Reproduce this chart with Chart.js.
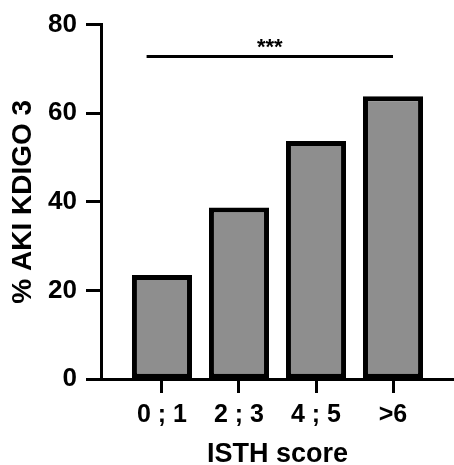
<!DOCTYPE html>
<html>
<head>
<meta charset="utf-8">
<script src="https://cdn.jsdelivr.net/npm/chart.js@4"></script>
<style>
  body { margin: 0; background: #fff; }
  #caja { width: 454px; height: 465px; }
</style>
</head>
<body>
<div id="caja"><canvas id="graficoAki"></canvas></div>
<script>
const categorias = ['0 ; 1', '2 ; 3', '4 ; 5', '>6'];
const porcentajes = [23.5, 38.7, 53.7, 63.8];
const ticksY = [0, 20, 40, 60, 80];
// barra de significancia: desde / hasta (indice de categoria), altura en %
const signif = { desde: -0.2, hasta: 3, valor: 72.8, texto: '***' };

document.addEventListener("DOMContentLoaded", function () {

const ctx = document.getElementById('graficoAki').getContext('2d');
const fuente = "'Liberation Sans', Arial, sans-serif";

//linea con asteriscos
const barraSignif = {
  id: 'barraSignif',
  afterDraw(chart) {
    const x = chart.scales.x, y = chart.scales.y;
    const c = chart.ctx;
    const x1 = x.getPixelForValue(signif.desde);
    const x2 = x.getPixelForValue(signif.hasta);
    const yy = y.getPixelForValue(signif.valor);
    c.save();
    c.strokeStyle = '#000';
    c.lineWidth = 3;
    c.beginPath();
    c.moveTo(x1, yy);
    c.lineTo(x2, yy);
    c.stroke();
    c.fillStyle = '#000';
    c.font = "bold 22px " + fuente;
    c.textAlign = 'center';
    c.textBaseline = 'alphabetic';
    c.fillText(signif.texto, (x1 + x2) / 2, yy - 2);
    c.restore();
  }
};

new Chart(ctx, {
  type: 'bar',
  data: {
    datasets: [{
      data: porcentajes.map((v, i) => ({ x: i, y: v })),
      backgroundColor: '#8e8e8e',
      borderColor: '#000',
      borderWidth: 5,
      borderSkipped: false,
      categoryPercentage: 1,
      barPercentage: 0.78
    }]
  },
  options: {
    responsive: true,
    maintainAspectRatio: false,
    animation: false,
    layout: { padding: { top: 23, right: 0, bottom: 0, left: 0 } },
    plugins: {
      legend: { display: false },
      tooltip: { enabled: false }
    },
    scales: {
      x: {
        type: 'linear',
        offset: false,
        min: -0.792,
        max: 3.792,
        afterBuildTicks: (axis) => { axis.ticks = categorias.map((c, i) => ({ value: i })); },
        afterFit: (axis) => { axis.height = 86; },
        grid: { offset: false, drawOnChartArea: false, tickLength: 14, tickWidth: 3, tickColor: '#000' },
        border: { color: '#000', width: 3 },
        ticks: {
          autoSkip: false,
          maxRotation: 0,
          padding: 7,
          color: '#000',
          font: { family: fuente, size: 25, weight: 'bold' },
          callback: (v, i) => categorias[i]
        },
        title: {
          display: true,
          text: 'ISTH score',
          color: '#000',
          padding: 0,
          font: { family: fuente, size: 27, weight: 'bold', lineHeight: 0.8 }
        }
      },
      y: {
        min: 0,
        max: 80,
        afterBuildTicks: (axis) => { axis.ticks = ticksY.map(v => ({ value: v })); },
        afterFit: (axis) => { axis.width = 101; },
        grid: { drawOnChartArea: false, tickLength: 15, tickWidth: 3, tickColor: '#000' },
        border: { color: '#000', width: 3 },
        ticks: {
          padding: 9,
          color: '#000',
          font: { family: fuente, size: 26, weight: 'bold' }
        },
        title: {
          display: true,
          text: '% AKI KDIGO 3',
          color: '#000',
          padding: { top: 6, bottom: 0 },
          font: { family: fuente, size: 28, weight: 'bold' }
        }
      }
    }
  },
  plugins: [barraSignif]
});

});
</script>
</body>
</html>
